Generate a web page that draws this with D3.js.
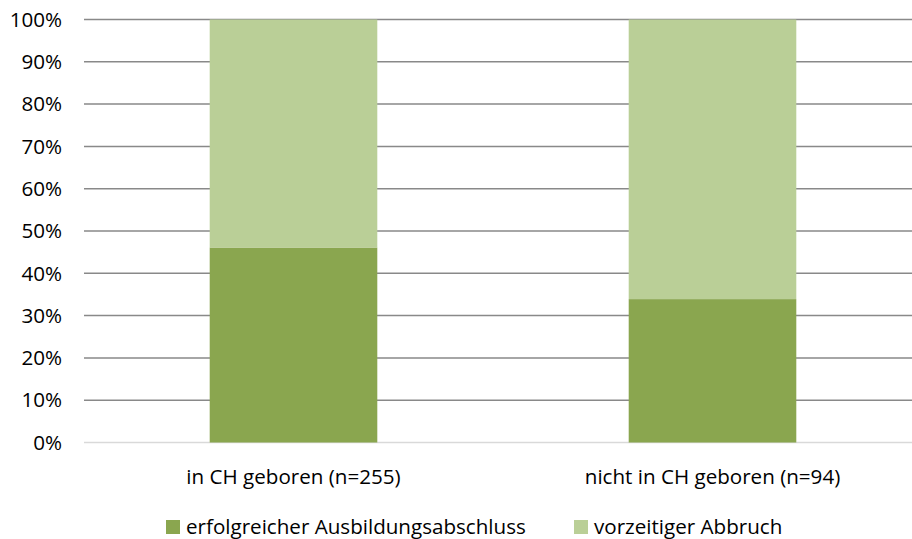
<!DOCTYPE html>
<meta charset="utf-8">
<style>
body { margin: 0; background: #fff; }
text { font-family: "Open Sans", sans-serif; fill: #000; font-size: 20.6px; }
.grid line { stroke: #898989; stroke-width: 1.5px; }
.grid line.zero { stroke: #d9d9d9; }
</style>
<svg width="912" height="539"></svg>
<script src="https://d3js.org/d3.v7.min.js"></script>
<script>

var categories = ["in CH geboren (n=255)", "nicht in CH geboren (n=94)"];
var seriesNames = ["erfolgreicher Ausbildungsabschluss", "vorzeitiger Abbruch"];
var erfolgreich = [46.1, 33.9];
var abbruch = [53.9, 66.1];
var yTicks = [0, 10, 20, 30, 40, 50, 60, 70, 80, 90, 100];
var colors = ["#8aa64f", "#bacf97"];

var svg = d3.select("svg");
// plot area runs a little past the right edge of the picture
var plotLeft = 84, plotRight = 922, plotTop = 19.5, plotBottom = 442.5;

var x = d3.scaleBand().domain(categories).range([plotLeft, plotRight]).paddingInner(0.6).paddingOuter(0.3);
var y = d3.scaleLinear().domain([0, 100]).range([plotBottom, plotTop]);

var grid = svg.append("g").attr("class", "grid");
grid.selectAll("line")
    .data(yTicks)
  .enter().append("line")
    .attr("class", function(d) { return d === 0 ? "zero" : null; })
    .attr("x1", plotLeft).attr("x2", plotRight)
    .attr("y1", function(d) { return y(d); })
    .attr("y2", function(d) { return y(d); });

svg.append("g").selectAll("text")
    .data(yTicks)
  .enter().append("text")
    .attr("x", 62)
    .attr("y", function(d) { return y(d); })
    .attr("dy", "0.35em")
    .attr("text-anchor", "end")
    .text(function(d) { return d + "%"; });

var stacked = d3.stack().keys([0, 1])(categories.map(function(c, i) {
  return { 0: erfolgreich[i], 1: abbruch[i], cat: c };
}));

svg.append("g").selectAll("g")
    .data(stacked)
  .enter().append("g")
    .attr("fill", function(d, i) { return colors[i]; })
  .selectAll("rect")
    .data(function(d) { return d; })
  .enter().append("rect")
    .attr("x", function(d) { return x(d.data.cat); })
    .attr("width", x.bandwidth())
    .attr("y", function(d) { return y(d[1]); })
    .attr("height", function(d) { return y(d[0]) - y(d[1]); });

svg.append("g").selectAll("text")
    .data(categories)
  .enter().append("text")
    .attr("x", function(d) { return x(d) + x.bandwidth() / 2; })
    .attr("y", 477)
    .attr("dy", "0.35em")
    .attr("text-anchor", "middle")
    .text(function(d) { return d; });

var legendX = [166, 574];
var legend = svg.append("g").selectAll("g")
    .data(seriesNames)
  .enter().append("g")
    .attr("transform", function(d, i) { return "translate(" + legendX[i] + ",527)"; });
legend.append("rect")
    .attr("x", 0).attr("y", -7)
    .attr("width", 14).attr("height", 14)
    .attr("fill", function(d, i) { return colors[i]; });
legend.append("text")
    .attr("x", 20)
    .attr("dy", "0.35em")
    .text(function(d) { return d; });

</script>
